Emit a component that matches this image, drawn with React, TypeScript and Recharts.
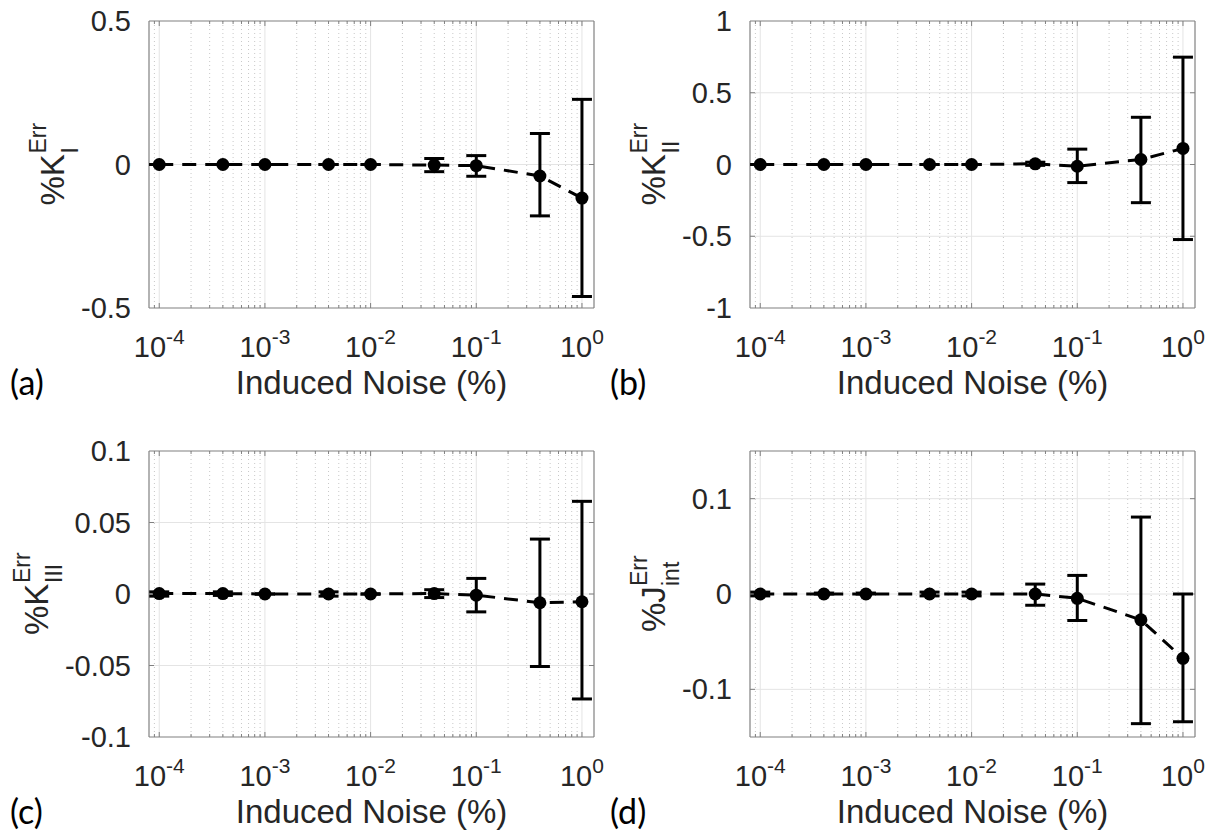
import React from "react";
import { ComposedChart, Line, XAxis, YAxis, ErrorBar, ReferenceLine } from "recharts";

// induced noise levels (%), shared by all four panels
const noiseLevels = [1e-4, 4e-4, 1e-3, 4e-3, 1e-2, 4e-2, 1e-1, 4e-1, 1];
const xDecadeTicks = [1e-4, 1e-3, 1e-2, 1e-1, 1];
const xMinorTicks = [
  9e-5,
  2e-4, 3e-4, 4e-4, 5e-4, 6e-4, 7e-4, 8e-4, 9e-4,
  2e-3, 3e-3, 4e-3, 5e-3, 6e-3, 7e-3, 8e-3, 9e-3,
  2e-2, 3e-2, 4e-2, 5e-2, 6e-2, 7e-2, 8e-2, 9e-2,
  2e-1, 3e-1, 4e-1, 5e-1, 6e-1, 7e-1, 8e-1, 9e-1,
];
const xDomain = [8e-5, 1.3];

// (a) %K_I error
const kIMean = [0, 0, 0, 0, 0, -0.002, -0.004, -0.04, -0.117];
const kILow = [0, 0, 0, 0, 0, -0.025, -0.041, -0.179, -0.46];
const kIHigh = [0, 0, 0, 0, 0, 0.021, 0.031, 0.108, 0.227];
const kITicks = [-0.5, 0, 0.5];

// (b) %K_II error
const kIIMean = [0, 0, 0, 0, 0, 0.005, -0.012, 0.035, 0.112];
const kIILow = [0, 0, 0, 0, 0, -0.006, -0.126, -0.266, -0.523];
const kIIHigh = [0, 0, 0, 0, 0, 0.016, 0.107, 0.329, 0.748];
const kIITicks = [-1, -0.5, 0, 0.5, 1];

// (c) %K_III error
const kIIIMean = [0.0003, 0.0003, 0, 0, 0, 0.0003, -0.0008, -0.0061, -0.0054];
const kIIILow = [-0.0015, -0.001, 0, -0.0015, 0, -0.0025, -0.0125, -0.0507, -0.0734];
const kIIIHigh = [0.0015, 0.0015, 0, 0.0015, 0, 0.003, 0.0109, 0.0384, 0.0648];
const kIIITicks = [-0.1, -0.05, 0, 0.05, 0.1];

// (d) %J_int error
const jMean = [0, 0, 0, 0, 0, 0, -0.0045, -0.0271, -0.0675];
const jLow = [-0.002, 0, 0, -0.002, -0.002, -0.0118, -0.0278, -0.136, -0.134];
const jHigh = [0.002, 0.001, 0.001, 0.002, 0.002, 0.0104, 0.0195, 0.0807, 0];
const jTicks = [-0.1, 0, 0.1];

const TEXT = "#262626";
const BOX = "#808080";
const MAJOR_GRID = "#e4e4e4";
const MINOR_GRID = "#c8c8c8";
const FONT = '"Liberation Sans", Arial, Helvetica, sans-serif';

function buildRows(mean: number[], low: number[], high: number[]) {
  return noiseLevels.map((x, i) => ({
    x,
    y: mean[i],
    err: [mean[i] - low[i], high[i] - mean[i]],
  }));
}

function XTick({ x, y, payload }: any) {
  const exp = Math.round(Math.log10(payload.value));
  return (
    <text x={x} y={y + 49} textAnchor="middle" fill={TEXT} fontFamily={FONT} fontSize={29}>
      10
      <tspan dy={-13} fontSize={21}>
        {String(exp)}
      </tspan>
    </text>
  );
}

function YTick({ x, y, payload }: any) {
  return (
    <text x={x - 18} y={y + 10} textAnchor="end" fill={TEXT} fontFamily={FONT} fontSize={29}>
      {String(payload.value)}
    </text>
  );
}

const vLine = (major: boolean) => (p: any) => {
  const top = Math.min(p.y1, p.y2);
  const bottom = Math.max(p.y1, p.y2);
  const t = major ? 5 : 3;
  return (
    <g>
      <line
        x1={p.x1}
        x2={p.x1}
        y1={top}
        y2={bottom}
        stroke={major ? MAJOR_GRID : MINOR_GRID}
        strokeDasharray={major ? undefined : "1 3"}
      />
      <line x1={p.x1} x2={p.x1} y1={bottom} y2={bottom - t} stroke={BOX} />
      <line x1={p.x1} x2={p.x1} y1={top} y2={top + t} stroke={BOX} />
    </g>
  );
};

const hLine = (p: any) => {
  const left = Math.min(p.x1, p.x2);
  const right = Math.max(p.x1, p.x2);
  return (
    <g>
      <line x1={left} x2={right} y1={p.y1} y2={p.y1} stroke={MAJOR_GRID} />
      <line x1={left} x2={left + 5} y1={p.y1} y2={p.y1} stroke={BOX} />
      <line x1={right - 5} x2={right} y1={p.y1} y2={p.y1} stroke={BOX} />
    </g>
  );
};

interface PanelProps {
  left: number;
  top: number;
  width: number;
  height: number;
  plotLeft: number;
  plotRight: number;
  plotTop: number;
  plotBottom: number;
  mean: number[];
  low: number[];
  high: number[];
  yTicks: number[];
  yDomain: number[];
  letter: string;
  labelMain: string;
  labelSub: string;
  labelMainWidth: number;
  labelX: number;
}

function Panel(props: PanelProps) {
  const {
    left, top, width, height, plotLeft, plotRight, plotTop, plotBottom,
    mean, low, high, yTicks, yDomain, letter, labelMain, labelSub, labelMainWidth, labelX,
  } = props;
  const rows = buildRows(mean, low, high);
  const cx = (plotLeft + plotRight) / 2;
  const cy = (plotTop + plotBottom) / 2;
  const subW = labelSub.length * 0.4 * 23;
  const totalW = labelMainWidth + Math.max(subW, 30);
  const start = -totalW / 2;
  const innerTicks = yTicks.filter((v) => v > yDomain[0] && v < yDomain[1]);

  return (
    <div style={{ position: "absolute", left, top, width, height }}>
      <ComposedChart
        width={width}
        height={height}
        data={rows}
        margin={{ top: plotTop, right: width - plotRight, bottom: height - plotBottom - 1, left: plotLeft - 1 }}
      >
        <XAxis
          dataKey="x"
          type="number"
          scale="log"
          domain={xDomain}
          allowDataOverflow
          ticks={xDecadeTicks}
          interval={0}
          tick={<XTick />}
          tickLine={false}
          axisLine={false}
          tickSize={0}
          tickMargin={0}
          height={1}
        />
        <YAxis
          type="number"
          domain={yDomain}
          allowDataOverflow
          ticks={yTicks}
          interval={0}
          tick={<YTick />}
          tickLine={false}
          axisLine={false}
          tickSize={0}
          tickMargin={0}
          width={1}
        />
        {xMinorTicks.map((v) => (
          <ReferenceLine key={"m" + v} x={v} shape={vLine(false)} />
        ))}
        {xDecadeTicks.map((v) => (
          <ReferenceLine key={"d" + v} x={v} shape={vLine(true)} />
        ))}
        {innerTicks.map((v) => (
          <ReferenceLine key={"y" + v} y={v} shape={hLine} />
        ))}
        <ReferenceLine x={xDomain[0]} stroke={BOX} strokeWidth={1.2} />
        <ReferenceLine x={xDomain[1]} stroke={BOX} strokeWidth={1.2} />
        <ReferenceLine y={yDomain[0]} stroke={BOX} strokeWidth={1.2} />
        <ReferenceLine y={yDomain[1]} stroke={BOX} strokeWidth={1.2} />
        <Line
          dataKey="y"
          type="linear"
          stroke="#000"
          strokeWidth={3}
          strokeDasharray="14 9"
          dot={{ r: 6.5, fill: "#000", stroke: "#000", strokeWidth: 0 }}
          activeDot={false}
          isAnimationActive={false}
        >
          <ErrorBar dataKey="err" direction="y" width={10} stroke="#000" strokeWidth={3} />
        </Line>
      </ComposedChart>
      <svg
        width={width}
        height={height}
        style={{ position: "absolute", left: 0, top: 0, pointerEvents: "none" }}
      >
        <text
          x={cx}
          y={plotBottom + 86}
          textAnchor="middle"
          fill={TEXT}
          fontFamily={FONT}
          fontSize={33}
        >
          Induced Noise (%)
        </text>
        <text x={10} y={plotBottom + 87} fill="#000" fontFamily="Lato, 'Open Sans', sans-serif" fontSize={34}>
          {letter}
        </text>
        <g transform={`translate(${labelX}, ${cy}) rotate(-90)`} fill={TEXT} fontFamily={FONT}>
          <text x={start} y={0} fontSize={33}>
            {labelMain}
          </text>
          <text x={start + labelMainWidth} y={14} fontSize={23}>
            {labelSub}
          </text>
          <text x={start + labelMainWidth} y={-18} fontSize={23}>
            Err
          </text>
        </g>
      </svg>
    </div>
  );
}

export default function App() {
  return (
    <div
      style={{
        position: "absolute",
        left: 0,
        top: 0,
        width: 1212,
        height: 837,
        background: "#fff",
        overflow: "hidden",
      }}
    >
      <Panel
        left={0} top={0} width={612} height={420}
        plotLeft={149} plotRight={594} plotTop={21} plotBottom={308}
        mean={kIMean} low={kILow} high={kIHigh}
        yTicks={kITicks} yDomain={[-0.5, 0.5]}
        letter="(a)" labelMain="%K" labelSub="I" labelMainWidth={52} labelX={64}
      />
      <Panel
        left={600} top={0} width={612} height={420}
        plotLeft={150} plotRight={595} plotTop={21} plotBottom={308}
        mean={kIIMean} low={kIILow} high={kIIHigh}
        yTicks={kIITicks} yDomain={[-1, 1]}
        letter="(b)" labelMain="%K" labelSub="II" labelMainWidth={52} labelX={65}
      />
      <Panel
        left={0} top={420} width={612} height={417}
        plotLeft={149} plotRight={594} plotTop={31} plotBottom={317}
        mean={kIIIMean} low={kIIILow} high={kIIIHigh}
        yTicks={kIIITicks} yDomain={[-0.1, 0.1]}
        letter="(c)" labelMain="%K" labelSub="III" labelMainWidth={52} labelX={48}
      />
      <Panel
        left={600} top={420} width={612} height={417}
        plotLeft={150} plotRight={595} plotTop={31} plotBottom={317}
        mean={jMean} low={jLow} high={jHigh}
        yTicks={jTicks} yDomain={[-0.15, 0.15]}
        letter="(d)" labelMain="%J" labelSub="int" labelMainWidth={46} labelX={65}
      />
    </div>
  );
}
